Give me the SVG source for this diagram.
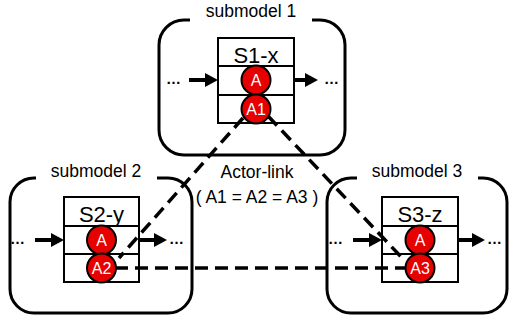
<svg xmlns="http://www.w3.org/2000/svg" width="511" height="320" viewBox="0 0 511 320">
<style>
.frame{fill:none;stroke:#000;stroke-width:3}
.tbl{fill:#fff;stroke:#000;stroke-width:2}
.sep{stroke:#000;stroke-width:2}
.lbl{font-family:"Liberation Sans",Arial,sans-serif;font-size:17.5px;fill:#000;text-anchor:middle}
.name{font-family:"Liberation Sans",Arial,sans-serif;font-size:22px;fill:#000;text-anchor:middle}
.dots{font-family:"Liberation Sans",Arial,sans-serif;font-size:15px;font-weight:bold;fill:#000}
.act{fill:#E60000;stroke:#000;stroke-width:2}
.actt{font-family:"Liberation Sans",Arial,sans-serif;font-size:16px;fill:#fff;text-anchor:middle}
.flow{stroke:#000;stroke-width:4;fill:none;marker-end:url(#ah)}
.link{stroke:#000;stroke-width:3.5;stroke-dasharray:13 7;fill:none}
.note{font-family:"Liberation Sans",Arial,sans-serif;font-size:17.5px;fill:#000;text-anchor:middle}
</style>
<defs>
<marker id="ah" markerWidth="14" markerHeight="14" refX="5" refY="7" orient="auto" markerUnits="userSpaceOnUse">
<path d="M0,0 L13,7 L0,14 z" fill="#000"/>
</marker>
</defs>
<rect width="511" height="320" fill="#fff"/>

<g id="submodel1">
<path class="frame" d="M190,20 H184 A25,25 0 0 0 159,45 V130 A25,25 0 0 0 184,155 H320 A25,25 0 0 0 345,130 V45 A25,25 0 0 0 320,20 H312"/>
<text class="lbl" x="251" y="17">submodel 1</text>
<rect class="tbl" x="218" y="38" width="76" height="85"/>
<line class="sep" x1="218" y1="66" x2="294" y2="66"/>
<line class="sep" x1="218" y1="95" x2="294" y2="95"/>
<text class="name" x="256" y="63">S1-x</text>
<text class="dots" x="166" y="84">…</text>
<line class="flow" x1="189" y1="80" x2="210" y2="80"/>
<line class="flow" x1="294" y1="80" x2="310" y2="80"/>
<text class="dots" x="324" y="84">…</text>
</g>

<g id="submodel2">
<path class="frame" d="M36,178 H34 A24,24 0 0 0 10,202 V289 A24,24 0 0 0 34,313 H168 A24,24 0 0 0 192,289 V202 A24,24 0 0 0 168,178 H157"/>
<text class="lbl" x="96" y="177">submodel 2</text>
<rect class="tbl" x="64" y="197" width="75" height="85"/>
<line class="sep" x1="64" y1="226" x2="139" y2="226"/>
<line class="sep" x1="64" y1="254" x2="139" y2="254"/>
<text class="name" x="101.5" y="222">S2-y</text>
<text class="dots" x="10" y="244">…</text>
<line class="flow" x1="35" y1="240" x2="56" y2="240"/>
<line class="flow" x1="139" y1="240" x2="159" y2="240"/>
<text class="dots" x="169" y="244">…</text>
</g>

<g id="submodel3">
<path class="frame" d="M357,178 H351 A24,24 0 0 0 327,202 V289 A24,24 0 0 0 351,313 H483 A24,24 0 0 0 507,289 V202 A24,24 0 0 0 483,178 H478"/>
<text class="lbl" x="417" y="177">submodel 3</text>
<rect class="tbl" x="382" y="197" width="76" height="85"/>
<line class="sep" x1="382" y1="226" x2="458" y2="226"/>
<line class="sep" x1="382" y1="254" x2="458" y2="254"/>
<text class="name" x="420" y="222">S3-z</text>
<text class="dots" x="328" y="244">…</text>
<line class="flow" x1="353" y1="240" x2="374" y2="240"/>
<line class="flow" x1="458" y1="240" x2="477" y2="240"/>
<text class="dots" x="487" y="244">…</text>
</g>

<g id="connectors">
<line class="link" x1="243" y1="118" x2="119" y2="258"/>
<line class="link" x1="268" y1="116" x2="404" y2="260"/>
<line class="link" x1="115" y1="268" x2="406" y2="268"/>
</g>

<g id="actor-link-label">
<text class="note" x="257" y="178">Actor-link</text>
<text class="note" x="257" y="203">( A1 = A2 = A3 )</text>
</g>

<g id="actor-S1-A"><circle class="act" cx="256" cy="80" r="14.5"/><text class="actt" x="256" y="86">A</text></g>
<g id="actor-A1"><circle class="act" cx="256" cy="109" r="14.5"/><text class="actt" x="256" y="115">A1</text></g>
<g id="actor-S2-A"><circle class="act" cx="101.5" cy="240" r="14.5"/><text class="actt" x="101.5" y="246">A</text></g>
<g id="actor-A2"><circle class="act" cx="101.5" cy="268" r="14.5"/><text class="actt" x="101.5" y="274">A2</text></g>
<g id="actor-S3-A"><circle class="act" cx="420" cy="240" r="14.5"/><text class="actt" x="420" y="246">A</text></g>
<g id="actor-A3"><circle class="act" cx="420" cy="268" r="14.5"/><text class="actt" x="420" y="274">A3</text></g>
</svg>
